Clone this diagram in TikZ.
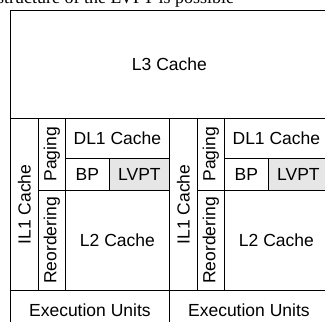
\documentclass[tikz,border=0pt]{standalone}
\usepackage{fontspec}
\setsansfont{Liberation Sans}
\newfontfamily\capfont{Liberation Serif}
\usetikzlibrary{positioning}
\definecolor{lvptgray}{HTML}{E6E6E6}
\tikzset{
  blk/.style={draw, line width=0.8pt, inner sep=0pt, anchor=north west,
    font=\sffamily\fontsize{17.5}{20}\selectfont},
}

\begin{document}
\begin{tikzpicture}[x=1pt, y=-1pt]
  \useasboundingbox (0,0) rectangle (325,322);
  \clip (0,0) rectangle (325,322);
  % caption line, cut by the page edge
  \node[anchor=base west, inner sep=0pt, font=\capfont\fontsize{18}{20}\selectfont] (cap) at (-3,3) {structure of the LVPT is possible};

  % shared L3
  \node[blk, minimum width=318pt, minimum height=108pt] (l3) at (10,10) {L3 Cache};

  % two cores
  \foreach \u/\ox in {a/10, b/169} {
    \begin{scope}[shift={(\ox,0)}]
      \node[blk, minimum width=28pt, minimum height=172pt] (il1\u) at (0,118) {\rotatebox{90}{IL1 Cache}};
      \node[blk, minimum width=27pt, minimum height=72pt] (pag\u) at (28,118) {\rotatebox{90}{Paging}};
      \node[blk, minimum width=27pt, minimum height=100pt] (reo\u) at (28,190) {\rotatebox{90}{Reordering}};
      \node[blk, minimum width=104pt, minimum height=40pt] (dl1\u) at (55,118) {DL1 Cache};
      \node[blk, minimum width=44pt, minimum height=32pt] (bp\u) at (55,158) {BP};
      \node[blk, fill=lvptgray, minimum width=60pt, minimum height=32pt] (lvpt\u) at (99,158) {LVPT};
      \node[blk, minimum width=104pt, minimum height=100pt] (l2\u) at (55,190) {L2 Cache};
      \node[blk, minimum width=159pt, minimum height=40pt] (exe\u) at (0,290) {Execution Units};
    \end{scope}
  }
\end{tikzpicture}
\end{document}
